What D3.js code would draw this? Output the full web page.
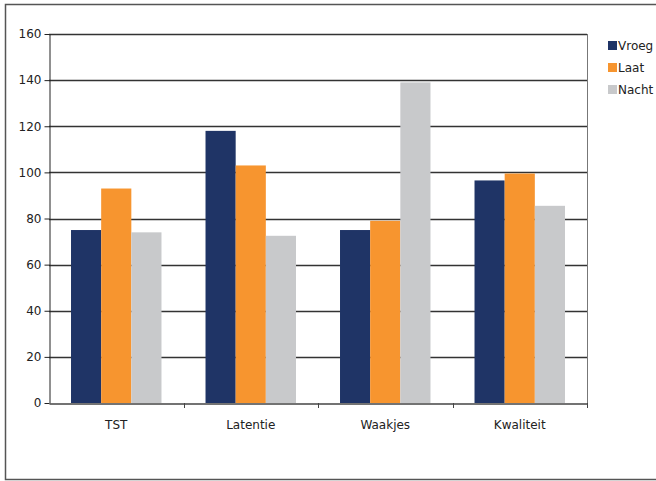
<!DOCTYPE html>
<html>
<head>
<meta charset="utf-8">
<script src="https://cdn.jsdelivr.net/npm/d3@7"></script>
<style>
  body { margin: 0; background: #fff; }
  text { font-family: "DejaVu Sans", sans-serif; fill: #222; }
</style>
</head>
<body>
<svg id="chart" width="656" height="481"></svg>
<script>
// chart data
const categories = ['TST', 'Latentie', 'Waakjes', 'Kwaliteit'];
const series = ['Vroeg', 'Laat', 'Nacht'];
const vroeg = [75, 118, 75, 96.5];
const laat = [93, 103, 79, 99.5];
const nacht = [74, 72.5, 139, 85.5];
const yTicks = [0, 20, 40, 60, 80, 100, 120, 140, 160];

const colors = {'Vroeg': '#1f3466', 'Laat': '#f7952f', 'Nacht': '#c8c9cb'};
const values = {'Vroeg': vroeg, 'Laat': laat, 'Nacht': nacht};

let svg = d3.select('#chart');

// outer frame
svg.append('rect')
  .attr('x', 5.5).attr('y', 4.5)
  .attr('width', 660).attr('height', 475)
  .attr('fill', 'none')
  .attr('stroke', '#555')
  .attr('stroke-width', 1.5);

let plotLeft = 49, plotRight = 587, plotTop = 34, plotBottom = 403;

let x = d3.scaleBand().domain(categories).range([plotLeft, plotRight]);
let xs = d3.scaleBand().domain(series).range([0, x.bandwidth()]).paddingOuter(0.73);
let y = d3.scaleLinear().domain([0, 160]).range([plotBottom, plotTop]);

// gridlines
svg.append('g').selectAll('line')
  .data(yTicks.filter(d => d > 0))
  .enter().append('line')
    .attr('x1', plotLeft).attr('x2', plotRight)
    .attr('y1', d => Math.round(y(d)) + 0.5)
    .attr('y2', d => Math.round(y(d)) + 0.5)
    .attr('stroke', '#333')
    .attr('stroke-width', 1.3);

// right border of plot area
svg.append('line')
  .attr('x1', plotRight + 0.5).attr('x2', plotRight + 0.5)
  .attr('y1', plotTop).attr('y2', plotBottom)
  .attr('stroke', '#777');

// bars
for (let s of series) {
  svg.append('g').selectAll('rect')
    .data(categories.map((c, i) => ({cat: c, v: values[s][i]})))
    .enter().append('rect')
      .attr('x', d => x(d.cat) + xs(s))
      .attr('y', d => y(d.v))
      .attr('width', xs.bandwidth())
      .attr('height', d => plotBottom - y(d.v))
      .attr('fill', colors[s]);
}

// y axis
let yAxis = svg.append('g')
  .attr('transform', 'translate(' + (plotLeft + 0.5) + ',0)')
  .call(d3.axisLeft(y).tickValues(yTicks).tickSize(5).tickSizeOuter(0));
yAxis.select('.domain').attr('stroke', '#222');
yAxis.selectAll('.tick line').attr('stroke', '#222');
yAxis.selectAll('.tick text')
  .attr('font-size', 12)
  .attr('font-family', 'DejaVu Sans')
  .attr('fill', '#222')
  .attr('x', -8);

// x axis
let xAxis = svg.append('g')
  .attr('transform', 'translate(0,' + (plotBottom + 0.5) + ')')
  .call(d3.axisBottom(x).tickSize(0).tickSizeOuter(0));
xAxis.select('.domain').attr('stroke', '#444').attr('stroke-width', 1.5);
xAxis.selectAll('.tick text')
  .attr('font-size', 12)
  .attr('font-family', 'DejaVu Sans')
  .attr('fill', '#222')
  .attr('dy', '1.85em');
// ticks between categories
svg.append('g').selectAll('line')
  .data(categories.slice(1).concat(['end']))
  .enter().append('line')
    .attr('x1', (d, i) => Math.round(plotLeft + x.bandwidth() * (i + 1)) + 0.5)
    .attr('x2', (d, i) => Math.round(plotLeft + x.bandwidth() * (i + 1)) + 0.5)
    .attr('y1', plotBottom).attr('y2', plotBottom + 5)
    .attr('stroke', '#444');

// legend
let ly = 41;
for (let s of series) {
  let group = svg.append('g');
  group.append('rect')
    .attr('x', 608).attr('y', ly)
    .attr('width', 9).attr('height', 9)
    .attr('fill', colors[s]);
  group.append('text')
    .text(s)
    .attr('x', 618).attr('y', ly + 9)
    .attr('font-size', 12);
  ly += 22;
}
</script>
</body>
</html>
